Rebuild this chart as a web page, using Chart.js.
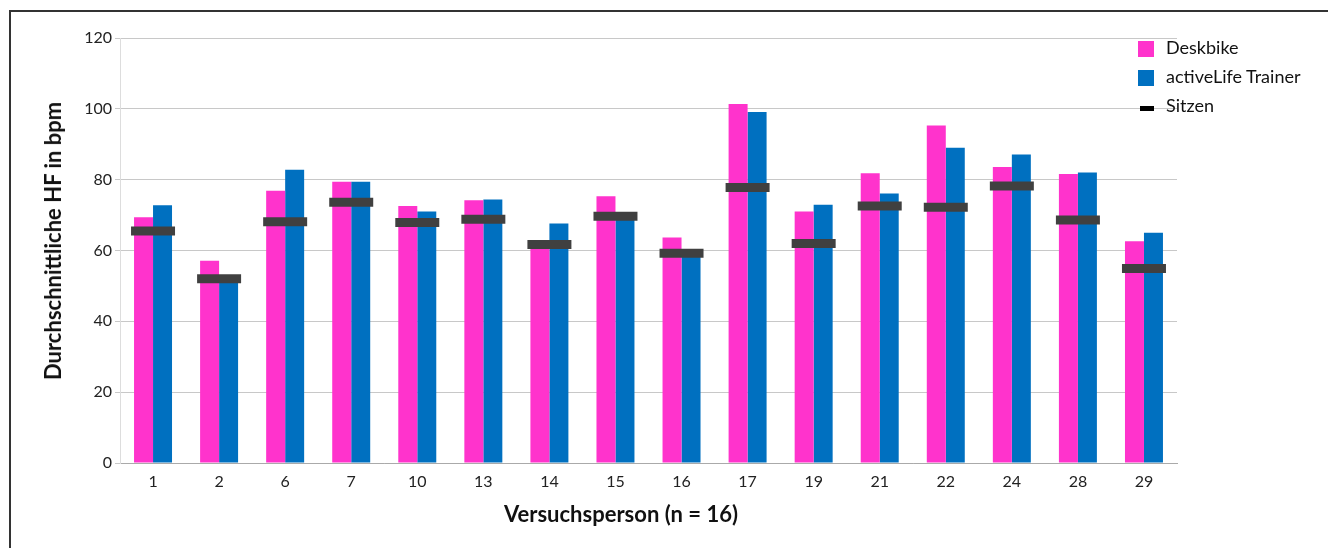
<!DOCTYPE html>
<html>
<head>
<meta charset="utf-8">
<script src="https://cdn.jsdelivr.net/npm/chart.js@4/dist/chart.umd.min.js"></script>
<style>
  html, body { margin: 0; padding: 0; background: #fff; }
  #wrap { position: relative; width: 1328px; height: 548px; overflow: hidden; }
  #frame { position: absolute; left: 9px; top: 10px; width: 1330px; height: 600px;
           border-left: 2px solid #333; border-top: 2px solid #333; }
  #chart { position: absolute; left: 0; top: 0; }
  .legend { position: absolute; left: 1138px; top: 36px; font-family: Lato, sans-serif;
            font-size: 18px; color: #111; }
  .legend .item { position: relative; height: 29px; line-height: 22px; padding-left: 28px; }
  .legend .sw { position: absolute; left: 0; top: 5px; width: 16px; height: 16px; }
  .legend .dash { position: absolute; left: 2px; top: 12px; width: 14px; height: 5px; background: #000; }
  .axis-title { position: absolute; font-family: Lato, sans-serif; font-weight: bold;
                font-size: 22px; color: #111; white-space: nowrap; line-height: 26px; }
  #xtitle { left: 621px; top: 501px; transform: translateX(-50%); }
  #ytitle { left: 53px; top: 241px; transform: translate(-50%, -50%) rotate(-90deg); }
</style>
</head>
<body>
<div id="wrap">
  <div id="frame"></div>
  <canvas id="chart" width="1328" height="548"></canvas>
  <div class="legend" id="legend"></div>
  <div class="axis-title" id="xtitle">Versuchsperson (n = 16)</div>
  <div class="axis-title" id="ytitle">Durchschnittliche HF in bpm</div>
</div>
<script>
const categories = ['1', '2', '6', '7', '10', '13', '14', '15', '16', '17', '19', '21', '22', '24', '28', '29'];
const deskbike = [69.4, 57.1, 76.9, 79.4, 72.6, 74.2, 61.5, 75.3, 63.7, 101.4, 71.0, 81.8, 95.3, 83.6, 81.6, 62.6];
const activeLife = [72.8, 51.5, 82.8, 79.4, 71.0, 74.4, 67.6, 69.5, 58.5, 99.1, 72.9, 76.1, 89.0, 87.1, 82.0, 65.0];
const sitzen = [65.5, 52.0, 68.1, 73.6, 67.9, 68.8, 61.7, 69.7, 59.2, 77.8, 62.0, 72.6, 72.2, 78.2, 68.6, 54.9];
const yTicks = [0, 20, 40, 60, 80, 100, 120];

const pink = '#ff33cc';
const blue = '#0070c0';
const dark = '#404040';

const legendEl = document.getElementById('legend');
legendEl.innerHTML =
  '<div class="item"><span class="sw" style="background:' + pink + '"></span>Deskbike</div>' +
  '<div class="item"><span class="sw" style="background:' + blue + '"></span>activeLife Trainer</div>' +
  '<div class="item"><span class="dash"></span>Sitzen</div>';

const ctx = document.getElementById('chart').getContext('2d');
const chart = new Chart(ctx, {
  type: 'bar',
  data: {
    labels: categories,
    datasets: [
      {
        type: 'line',
        label: 'Sitzen',
        data: sitzen,
        showLine: false,
        pointStyle: 'line',
        pointRadius: 22,
        pointHoverRadius: 22,
        pointBorderWidth: 9,
        pointBorderColor: dark,
        borderColor: dark,
        order: 0
      },
      {
        label: 'Deskbike',
        data: deskbike,
        backgroundColor: pink,
        categoryPercentage: 0.575,
        barPercentage: 1.0,
        order: 1
      },
      {
        label: 'activeLife Trainer',
        data: activeLife,
        backgroundColor: blue,
        categoryPercentage: 0.575,
        barPercentage: 1.0,
        order: 1
      }
    ]
  },
  options: {
    responsive: false,
    animation: false,
    layout: { padding: { left: 38, right: 151, top: 38, bottom: 18 } },
    plugins: {
      legend: { display: false },
      tooltip: { enabled: false }
    },
    scales: {
      x: {
        grid: { display: false, drawTicks: false },
        border: { display: true, color: '#aaaaaa', width: 1 },
        ticks: { color: '#222', padding: 9, font: { family: 'Lato', size: 16 } },
        afterFit: (scale) => { scale.height = 67; }
      },
      y: {
        min: 0,
        max: 120,
        afterBuildTicks: (scale) => { scale.ticks = yTicks.map(v => ({ value: v })); },
        grid: { color: '#c8c8c8', lineWidth: 1, tickLength: 5 },
        border: { display: true, color: '#dddddd', width: 1 },
        ticks: { color: '#222', padding: 3, font: { family: 'Lato', size: 16 } },
        afterFit: (scale) => { scale.width = 82; }
      }
    }
  }
});
</script>
</body>
</html>
